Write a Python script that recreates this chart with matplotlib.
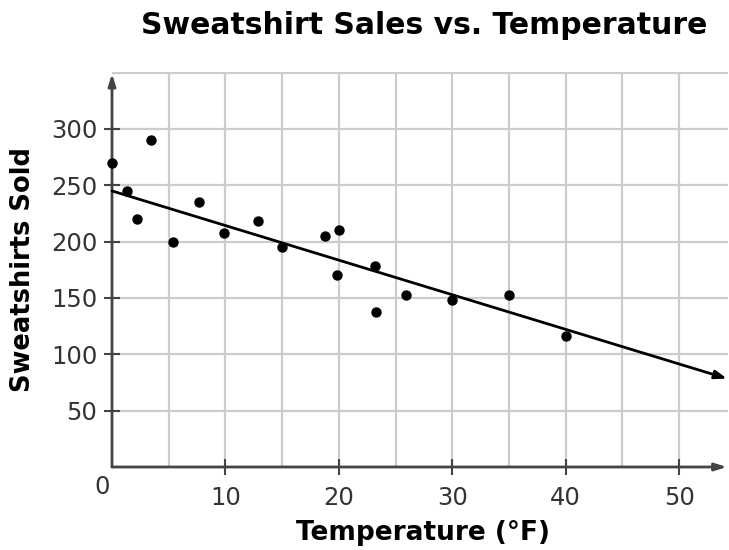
import matplotlib.pyplot as plt

# data
temps = [0, 1.3, 2.2, 3.4, 5.4, 7.7, 9.9, 12.9, 15, 18.8, 20, 19.8, 23.2, 23.3, 25.9, 30, 35, 40]
sold = [270, 245, 220, 290, 200, 235, 208, 218, 195, 205, 210, 170, 178, 138, 153, 148, 153, 116]

# trend line end points (x, y)
trend_x = [0, 54.2]
trend_y = [245, 78.5]

x_ticks = [10, 20, 30, 40, 50]
x_grid = [5, 15, 25, 35, 45]
y_ticks = [50, 100, 150, 200, 250, 300]
y_grid = [350]

fig = plt.figure(figsize=(7.29, 5.5), dpi=100)
ax = fig.add_axes([112 / 729, 83 / 550, 616 / 729, 395.5 / 550])
ax.set_xlim(0, 54.3)
ax.set_ylim(0, 351)

for s in ax.spines.values():
    s.set_visible(False)

ax.set_xticks(x_ticks)
ax.set_xticks(x_grid, minor=True)
ax.set_yticks(y_ticks)
ax.set_yticks(y_grid, minor=True)
ax.set_xticklabels([str(v) for v in x_ticks])
ax.set_yticklabels([str(v) for v in y_ticks])
ax.grid(True, which="both", color="#cccccc", linewidth=1.6)
ax.set_axisbelow(True)

ax.tick_params(which="major", direction="inout", length=11, width=1.5, color="#444444",
               labelsize=17.5, labelcolor="#333333")
ax.tick_params(axis="x", which="major", pad=8)
ax.tick_params(axis="y", which="major", pad=5)
ax.tick_params(which="minor", length=0)

# the axes as arrows
ax.annotate("", xy=(54.2, 0), xytext=(0, 0), annotation_clip=False,
            arrowprops=dict(arrowstyle="-|>,head_length=0.7,head_width=0.22", color="#444444",
                            lw=2, shrinkA=0, shrinkB=0))
ax.annotate("", xy=(0, 349), xytext=(0, 0), annotation_clip=False,
            arrowprops=dict(arrowstyle="-|>,head_length=0.7,head_width=0.22", color="#444444",
                            lw=2, shrinkA=0, shrinkB=0))
ax.text(-0.9, -18, "0", ha="center", va="center", fontsize=17.5, color="#333333")

# trend line
ax.annotate("", xy=(trend_x[1], trend_y[1]), xytext=(trend_x[0], trend_y[0]), annotation_clip=False,
            arrowprops=dict(arrowstyle="-|>,head_length=0.7,head_width=0.25", color="black",
                            lw=2, shrinkA=0, shrinkB=0))

ax.scatter(temps, sold, s=42, color="black", zorder=5, clip_on=False)

fig.text(424 / 729, 1 - 25 / 550, "Sweatshirt Sales vs. Temperature", ha="center", va="center",
         fontsize=21.5, fontweight="bold")
fig.text(423 / 729, 1 - 533 / 550, "Temperature (°F)", ha="center", va="center",
         fontsize=19, fontweight="bold")
fig.text(23 / 729, 1 - 270 / 550, "Sweatshirts Sold", ha="center", va="center", rotation=90,
         fontsize=18.5, fontweight="bold")

fig.savefig("out.png", dpi=100)
